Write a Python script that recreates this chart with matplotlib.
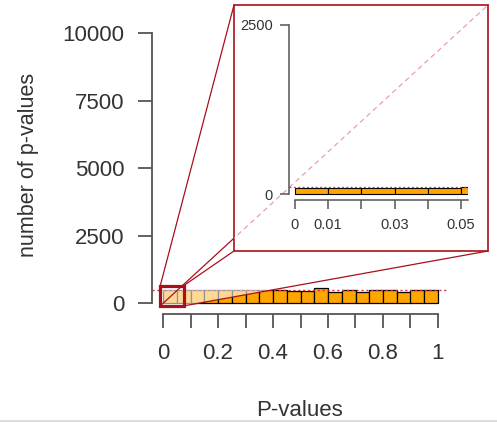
import numpy as np
import matplotlib
matplotlib.use("Agg")
import matplotlib.pyplot as plt
from matplotlib.patches import Rectangle, Polygon
from matplotlib.lines import Line2D

plt.rcParams['font.family'] = ['Liberation Sans', 'DejaVu Sans']

# ---- data ----
main_bin_width = 0.05
main_counts = [472, 482, 478, 485, 480, 476, 483, 479, 481, 455,
               455, 575, 400, 475, 420, 475, 475, 405, 475, 475]
main_expected = 500
main_xticks = [0, 0.1, 0.2, 0.3, 0.4, 0.5, 0.6, 0.7, 0.8, 0.9, 1.0]
main_xticklabels = ['0', '', '0.2', '', '0.4', '', '0.6', '', '0.8', '', '1']
main_yticks = [0, 2500, 5000, 7500, 10000]

inset_bin_width = 0.01
inset_counts = [95, 94, 96, 92, 95, 97]
inset_expected = 100
inset_xticks = [0, 0.01, 0.02, 0.03, 0.04, 0.05]
inset_xticklabels = ['0', '0.01', '', '0.03', '', '0.05']
inset_yticks = [0, 2500]

zoom_box_x = (-0.01, 0.075)
zoom_box_y = (-100, 650)

W, H = 497, 422
fig = plt.figure(figsize=(W / 100, H / 100), dpi=100)

BAR = '#FFA500'
AXC = '#555555'
TXT = '#333333'
RED = '#A8101A'

def px(x0, y0, x1, y1):
    # pixel box (from top-left) -> figure fraction rect
    return [x0 / W, (H - y1) / H, (x1 - x0) / W, (y1 - y0) / H]

# ---- main axes ----
ax = fig.add_axes(px(152, 22.5, 449, 314))
edges = np.arange(len(main_counts)) * main_bin_width
ax.bar(edges, main_counts, width=main_bin_width, align='edge', color=BAR,
       edgecolor='black', linewidth=0.9, zorder=2)
ax.axhline(main_expected, color='#D03040', linestyle=(0, (1.5, 2)), linewidth=1.0, zorder=3)
ax.set_xlim(-0.04, 1.04)
ax.set_ylim(-400, 10400)
for s in ['top', 'right']:
    ax.spines[s].set_visible(False)
ax.spines['left'].set_bounds(0, 10000)
ax.spines['bottom'].set_bounds(0, 1)
for s in ['left', 'bottom']:
    ax.spines[s].set_color(AXC)
    ax.spines[s].set_linewidth(1.3)
ax.set_xticks(main_xticks)
ax.set_xticklabels(main_xticklabels)
ax.set_yticks(main_yticks)
ax.set_yticklabels([str(v) for v in main_yticks])
ax.tick_params(axis='both', direction='out', length=10, width=1.3, color=AXC,
               labelcolor=TXT, labelsize=16)
ax.tick_params(axis='x', pad=11)
ax.tick_params(axis='y', pad=10)
ax.patch.set_visible(False)

fig.text(300 / W, (H - 416.5) / H, 'P-values', ha='center', va='baseline',
         fontsize=16, color=TXT)
fig.text(29 / W, (H - 165) / H, 'number of p-values', ha='center', va='center',
         rotation=90, fontsize=15.5, color=TXT)

# ---- zoom geometry (figure fraction) ----
to_fig = fig.transFigure.inverted()
def d2f(x, y):
    return to_fig.transform(ax.transData.transform((x, y)))

bTL = d2f(zoom_box_x[0], zoom_box_y[1])
bTR = d2f(zoom_box_x[1], zoom_box_y[1])
bBL = d2f(zoom_box_x[0], zoom_box_y[0])
bBR = d2f(zoom_box_x[1], zoom_box_y[0])

ox0, oy0, ow, oh = px(234, 5, 488, 251)
oTL = np.array([ox0, oy0 + oh]); oTR = np.array([ox0 + ow, oy0 + oh])
oBL = np.array([ox0, oy0]); oBR = np.array([ox0 + ow, oy0])

# white fade over the region between box and inset
hull = Polygon([bTL, bBL, bBR, oBR, oTR, oTL], closed=True, facecolor='white',
               alpha=0.58, edgecolor='none', transform=fig.transFigure, zorder=1)
fig.add_artist(hull)

# connector lines
for a, b in [(bTL, oTL), (bTR, oBL), (bBL, oTR), (bBR, oBR)]:
    fig.add_artist(Line2D([a[0], b[0]], [a[1], b[1]], color=RED, linewidth=0.9,
                          transform=fig.transFigure, zorder=2))

# zoom box on main plot
fig.add_artist(Rectangle((bBL[0], bBL[1]), bTR[0] - bBL[0], bTR[1] - bBL[1],
                         fill=False, edgecolor=RED, linewidth=2.3,
                         transform=fig.transFigure, zorder=6))

# outer inset box
outer = Rectangle((ox0, oy0), ow, oh, facecolor='white', edgecolor=RED,
                  linewidth=1.2, transform=fig.transFigure, zorder=3)
fig.add_artist(outer)

# dashed diagonal inside the inset (continuation of the connector)
diag = Line2D([bBL[0], oTR[0]], [bBL[1], oTR[1]], color='#E8A0B0', linewidth=0.9,
              linestyle=(0, (4, 3)), transform=fig.transFigure, zorder=3.5)
fig.add_artist(diag)
diag.set_clip_path(outer)

# ---- inset axes ----
ins = fig.add_axes(px(289.3, 18.2, 468.3, 200.3), zorder=5)
ins.patch.set_visible(False)
iedges = np.arange(len(inset_counts)) * inset_bin_width
ins.bar(iedges, inset_counts, width=inset_bin_width, align='edge', color=BAR,
        edgecolor='black', linewidth=0.8, zorder=2)
ins.axhline(inset_expected, color='#D03040', linestyle=(0, (1.5, 2)), linewidth=0.9, zorder=3)
ins.set_xlim(-0.0017, 0.0522)
ins.set_ylim(-93, 2600)
for s in ['top', 'right']:
    ins.spines[s].set_visible(False)
ins.spines['left'].set_bounds(0, 2500)
ins.spines['bottom'].set_bounds(0, 0.0522)
for s in ['left', 'bottom']:
    ins.spines[s].set_color(AXC)
    ins.spines[s].set_linewidth(1.1)
ins.set_xticks(inset_xticks)
ins.set_xticklabels(inset_xticklabels)
ins.set_yticks(inset_yticks)
ins.set_yticklabels([str(v) for v in inset_yticks])
ins.tick_params(axis='both', direction='out', length=6.8, width=1.1, color=AXC,
                labelcolor=TXT, labelsize=10.5)
ins.tick_params(axis='x', pad=6)
ins.tick_params(axis='y', pad=5)

# light grey line at the bottom edge
fig.add_artist(Line2D([0, 1], [0.002, 0.002], color='#DDDDDD', linewidth=1.5,
                      transform=fig.transFigure))

fig.savefig('out.png', dpi=100)
